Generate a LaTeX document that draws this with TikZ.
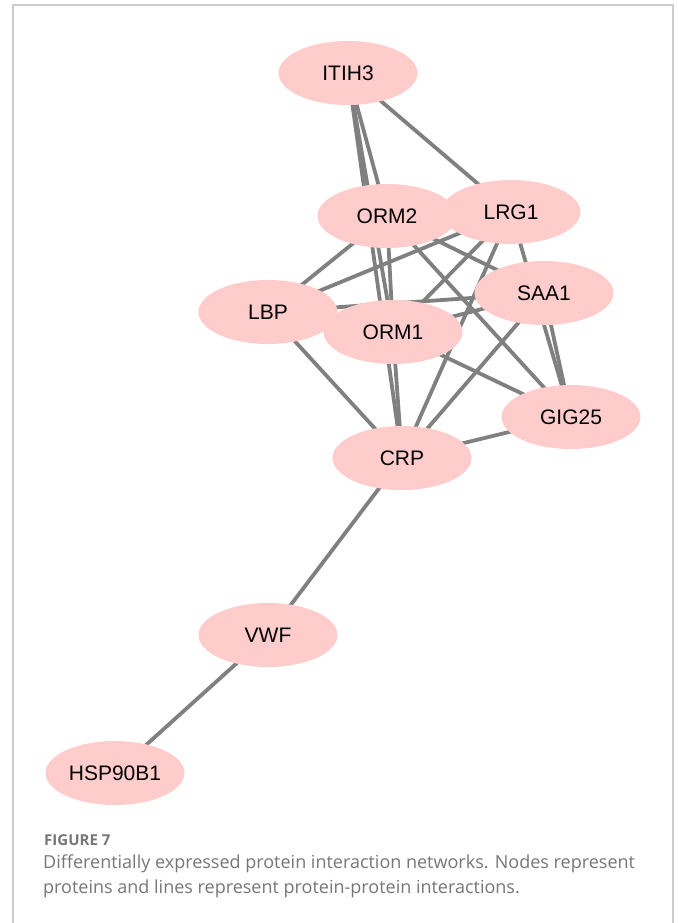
\documentclass[tikz,border=0pt]{standalone}
\usepackage{fontspec}
\setmainfont{Liberation Sans}
\newfontfamily\capfont{Open Sans}
\usetikzlibrary{shapes.geometric,backgrounds}

\definecolor{protpink}{RGB}{255,204,204}
\definecolor{linkgray}{RGB}{128,128,128}
\definecolor{capgray}{RGB}{118,118,118}
\definecolor{framegray}{RGB}{205,205,205}

\begin{document}
\begin{tikzpicture}[x=1pt, y=-1pt,
                prot/.style={ellipse, fill=protpink, minimum width=139pt, minimum height=64pt, inner sep=0pt, font=\fontsize{21}{21}\selectfont},
                link/.style={draw=linkgray, line width=3.8pt},
                captext/.style={anchor=base west, text=capgray, inner sep=0pt, font=\capfont\fontsize{18}{18}\selectfont}]

                \useasboundingbox (0,0) rectangle (677,923);
                \draw[framegray, line width=1.6pt] (13,923) -- (13,5) -- (673,5) -- (673,923);

                % proteins
                \node[prot] (itih3) at (348,73) {ITIH3};
                \node[prot] (orm2) at (387,216) {ORM2};
                \node[prot] (lrg1) at (511,212) {LRG1};
                \node[prot] (saa1) at (544,293) {SAA1};
                \node[prot] (lbp) at (268,312) {LBP};
                \node[prot] (orm1) at (393,332) {ORM1};
                \node[prot] (gig25) at (571,417) {GIG25};
                \node[prot] (crp) at (402,458) {CRP};
                \node[prot] (vwf) at (268,635) {VWF};
                \node[prot] (hsp) at (115,773) {HSP90B1};

                % interactions
                \begin{pgfonlayer}{background}
                \draw[link] (itih3.center) -- (orm2.center);
                \draw[link] (itih3.center) -- (orm1.center);
                \draw[link] (itih3.center) -- (crp.center);
                \draw[link] (itih3.center) -- (lrg1.center);
                \draw[link] (orm2.center) -- (lbp.center);
                \draw[link] (orm2.center) -- (orm1.center);
                \draw[link] (orm2.center) -- (saa1.center);
                \draw[link] (orm2.center) -- (gig25.center);
                \draw[link] (lrg1.center) -- (lbp.center);
                \draw[link] (lrg1.center) -- (orm1.center);
                \draw[link] (lrg1.center) -- (crp.center);
                \draw[link] (lrg1.center) -- (gig25.center);
                \draw[link] (lbp.center) -- (saa1.center);
                \draw[link] (lbp.center) -- (crp.center);
                \draw[link] (orm1.center) -- (saa1.center);
                \draw[link] (orm1.center) -- (gig25.center);
                \draw[link] (orm1.center) -- (crp.center);
                \draw[link] (saa1.center) -- (crp.center);
                \draw[link] (saa1.center) -- (gig25.center);
                \draw[link] (gig25.center) -- (crp.center);
                \draw[link] (crp.center) -- (vwf.center);
                \draw[link] (vwf.center) -- (hsp.center);
                \end{pgfonlayer}

                % caption
                \node[captext, font=\capfont\bfseries\fontsize{15}{15}\selectfont] (figlabel) at (44,845) {FIGURE 7};
                \node[captext] (capline1) at (43,868) {Differentially expressed protein interaction networks. Nodes represent};
                \node[captext] (capline2) at (43,893) {proteins and lines represent protein-protein interactions.};
            \end{tikzpicture}
\end{document}
